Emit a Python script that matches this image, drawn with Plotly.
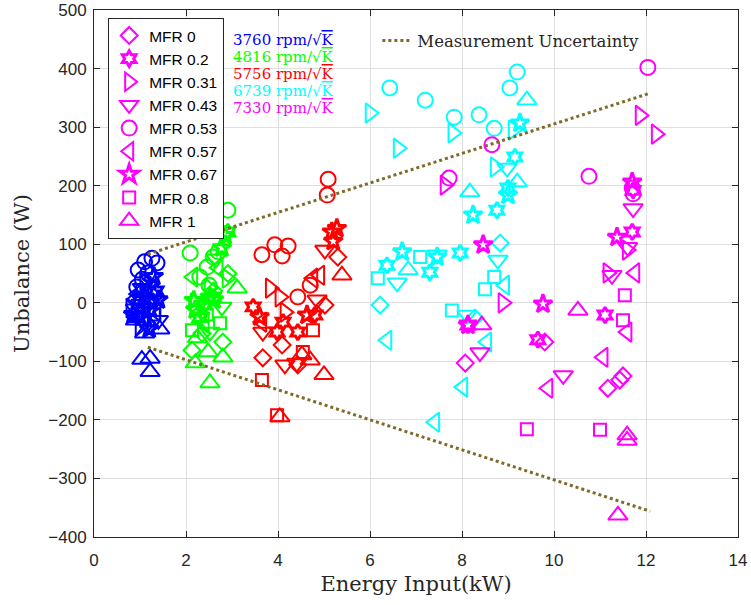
import plotly.graph_objects as go

# ---------------- data ----------------
MFR_LEVELS = [0, 0.2, 0.31, 0.43, 0.53, 0.57, 0.67, 0.8, 1]
MFR_LABELS = ["MFR 0", "MFR 0.2", "MFR 0.31", "MFR 0.43", "MFR 0.53",
              "MFR 0.57", "MFR 0.67", "MFR 0.8", "MFR 1"]
SPEEDS = [3760, 4816, 5756, 6739, 7330]

# 3760 rpm/sqrt(K)
M_3760 = [0, 0, 0, 0,
          0.2, 0.2, 0.2, 0.2,
          0.31, 0.31, 0.31, 0.31,
          0.43, 0.43, 0.43, 0.43,
          0.53, 0.53, 0.53, 0.53, 0.53, 0.53, 0.53,
          0.57, 0.57, 0.57, 0.57,
          0.67, 0.67, 0.67, 0.67, 0.67,
          0.8, 0.8, 0.8,
          1, 1, 1, 1, 1, 1]
E_3760 = [1.0, 1.3, 1.15, 0.9,
          1.0, 1.2, 1.35, 0.95,
          1.1, 1.3, 1.0, 0.8,
          1.2, 0.9, 1.4, 1.05,
          1.1, 0.96, 1.17, 1.37, 0.93, 1.26, 1.05,
          0.95, 1.25, 1.1, 1.35,
          0.85, 1.1, 1.3, 1.2, 1.4,
          1.05, 1.3, 0.95,
          1.1, 1.43, 1.04, 1.22, 1.22, 0.9]
U_3760 = [-20, 10, -35, 5,
          5, -15, 20, -25,
          35, -5, -40, -9,
          0, -10, -30, 25,
          70, 56, 51, 68, 27, 76, 40,
          15, 40, -25, -15,
          -20, 10, 45, -45, 5,
          20, -20, -5,
          -52, -45, -97, -95, -118, -30]

# 4816 rpm/sqrt(K)
M_4816 = [0, 0, 0, 0, 0,
          0.2, 0.2, 0.2, 0.2,
          0.31, 0.31, 0.31,
          0.43, 0.43, 0.43, 0.43,
          0.53, 0.53, 0.53, 0.53, 0.53, 0.53, 0.53,
          0.57, 0.57, 0.57,
          0.67, 0.67, 0.67, 0.67, 0.67, 0.67,
          0.8, 0.8, 0.8,
          1, 1, 1, 1, 1, 1]
E_4816 = [2.91, 2.13, 2.8, 2.35, 2.6,
          2.91, 2.41, 2.6, 2.3,
          2.89, 2.5, 2.2,
          2.78, 2.52, 2.3, 2.65,
          2.09, 2.46, 2.59, 2.3, 2.7, 2.91, 2.5,
          2.15, 2.4, 2.7,
          2.78, 2.17, 2.52, 2.2, 2.61, 2.85,
          2.74, 2.13, 2.45,
          3.11, 2.52, 2.8, 2.2, 2.48, 2.25]
U_4816 = [50, -81, -67, -52, 20,
          121, -4, 10, -25,
          42, 25, 0,
          -7, -50, -24, 75,
          85, 61, 78, 44, 87, 158, 30,
          44, -35, 60,
          94, 4, 10, -12, 5, 115,
          -35, -47, -20,
          25, -137, -93, -103, -84, -60]

# 5756 rpm/sqrt(K)
M_5756 = [0, 0, 0, 0, 0,
          0.2, 0.2, 0.2, 0.2, 0.2,
          0.31, 0.31, 0.31,
          0.43, 0.43, 0.43, 0.43, 0.43,
          0.53, 0.53, 0.53, 0.53, 0.53, 0.53, 0.53, 0.53,
          0.57, 0.57, 0.57,
          0.67, 0.67, 0.67, 0.67, 0.67,
          0.8, 0.8, 0.8, 0.8,
          1, 1, 1, 1, 1]
E_5756 = [5.3, 5.02, 3.67, 4.09, 4.43,
          3.46, 3.98, 4.43, 4.8, 4.11,
          3.83, 4.04, 4.15,
          5.02, 3.67, 4.15, 4.41, 4.85,
          5.09, 5.07, 3.65, 3.93, 4.09, 4.22, 4.43, 4.7,
          4.91, 4.76, 3.65,
          5.28, 5.17, 4.63, 3.6, 5.2,
          3.65, 4.76, 4.54, 3.98,
          5.39, 5.0, 4.7, 4.04, 4.52]
U_5756 = [78, -4, -94, -72, -106,
          -7, -50, -50, -21, -33,
          25, 10, -16,
          90, -50, -106, -103, 5,
          211, 184, 82, 99, 80, 97, 10, 30,
          47, 42, -33,
          127, 121, -21, -24, 105,
          -132, -47, -84, -192,
          47, -123, -98, -195, -89]

# 6739 rpm/sqrt(K)
M_6739 = [0, 0, 0,
          0.2, 0.2, 0.2, 0.2, 0.2, 0.2,
          0.31, 0.31, 0.31, 0.31, 0.31,
          0.43, 0.43, 0.43, 0.43, 0.43,
          0.53, 0.53, 0.53, 0.53, 0.53, 0.53, 0.53,
          0.57, 0.57, 0.57, 0.57, 0.57,
          0.67, 0.67, 0.67, 0.67, 0.67,
          0.8, 0.8, 0.8, 0.8, 0.8,
          1, 1, 1, 1]
E_6739 = [6.22, 8.83, 8.28,
          6.37, 7.3, 7.96, 8.76, 9.15, 9.0,
          6.0, 6.61, 7.8, 9.11, 8.72,
          8.98, 6.59, 7.46, 8.78, 8.11,
          6.43, 7.2, 7.83, 8.37, 8.7, 9.04, 9.2,
          6.37, 8.54, 8.02, 7.41, 8.93,
          6.7, 8.24, 9.0, 7.46, 9.26,
          6.17, 7.09, 8.5, 8.7, 7.78,
          9.41, 8.17, 9.2, 6.83]
U_6739 = [-4, 102, -26,
          64, 52, 85, 158, 249, 196,
          324, 264, 290, 295, 232,
          230, 34, 82, 73, -21,
          367, 346, 317, 321, 298, 367, 394,
          -64, -67, -144, -204, 30,
          87, 150, 184, 78, 307,
          42, 78, 23, 44, -13,
          346, 189, 206, 56]

# 7330 rpm/sqrt(K)
M_7330 = [0, 0, 0, 0, 0,
          0.2, 0.2, 0.2, 0.2, 0.2,
          0.31, 0.31, 0.31, 0.31, 0.31, 0.31,
          0.43, 0.43, 0.43, 0.43, 0.43,
          0.53, 0.53, 0.53, 0.53, 0.53, 0.53,
          0.57, 0.57, 0.57, 0.57,
          0.67, 0.67, 0.67, 0.67, 0.67,
          0.8, 0.8, 0.8, 0.8,
          1, 1, 1, 1, 1]
E_7330 = [11.43, 11.17, 11.5, 9.8, 8.07,
          11.7, 11.11, 9.65, 11.72, 8.13,
          11.87, 12.22, 7.63, 8.89, 11.17, 11.59,
          11.72, 11.6, 11.26, 10.2, 8.39,
          12.04, 10.76, 8.65, 7.72, 11.7, 11.72,
          11.76, 11.59, 11.07, 9.87,
          11.7, 11.37, 9.76, 8.46, 8.13,
          11.54, 11.5, 11.0, 9.41,
          11.59, 11.59, 11.39, 10.52, 8.43]
U_7330 = [-132, -146, -125, -67, -103,
          121, -21, -63, 192, -38,
          320, 288, 201, 0, 51, 90,
          161, 95, 47, -124, -85,
          402, 216, 270, 213, 196, 186,
          51, -50, -93, -146,
          206, 112, -2, 99, -38,
          13, -30, -217, -216,
          -226, -235, -363, -13, -38]

# measurement uncertainty band (end points)
UNC_E = [1.17, 12.09]
UNC_UP = [83, 358]
UNC_LO = [-76, -356]

# ---------------- styling ----------------
COLORS = {3760: "#0000FF", 4816: "#00FF00", 5756: "#FF0000",
          6739: "#00FFFF", 7330: "#FF00FF"}
SYMS = ["diamond-open", "hexagram-open", "triangle-right-open",
        "triangle-down-open", "circle-open", "triangle-left-open",
        "star-open", "square-open", "triangle-up-open"]
SIZES = [13, 12, 17, 17, 15, 17, 14, 12, 17]
WIDTHS = [2, 3, 2, 2, 2, 2, 3, 2, 2]

DATA = {3760: (M_3760, E_3760, U_3760), 4816: (M_4816, E_4816, U_4816),
        5756: (M_5756, E_5756, U_5756), 6739: (M_6739, E_6739, U_6739),
        7330: (M_7330, E_7330, U_7330)}

fig = go.Figure()

for spd in SPEEDS:
    M, E, U = DATA[spd]
    for k, lvl in enumerate(MFR_LEVELS):
        xs = [e for m, e in zip(M, E) if m == lvl]
        ys = [u for m, u in zip(M, U) if m == lvl]
        fig.add_trace(go.Scatter(
            x=xs, y=ys, mode="markers", name=MFR_LABELS[k],
            showlegend=(spd == 7330), legend="legend",
            marker=dict(symbol=SYMS[k], size=SIZES[k], color=COLORS[spd],
                        line=dict(width=WIDTHS[k], color=COLORS[spd])),
        ))

line_col = "#7F6A28"
fig.add_trace(go.Scatter(x=UNC_E, y=UNC_UP, mode="lines",
                         name="Measurement Uncertainty", legend="legend2",
                         line=dict(color=line_col, width=3, dash="dot")))
fig.add_trace(go.Scatter(x=UNC_E, y=UNC_LO, mode="lines", showlegend=False,
                         line=dict(color=line_col, width=3, dash="dot")))

# rpm labels
for i, spd in enumerate(SPEEDS):
    fig.add_annotation(
        x=0.212, y=0.943 - i * 0.0323, xref="paper", yref="paper",
        xanchor="left", yanchor="middle", showarrow=False,
        text=f"{spd} rpm/√<span style=\"text-decoration:overline\">K</span>",
        font=dict(family="DejaVu Serif", size=15, color=COLORS[spd]))

axis_common = dict(showline=True, linecolor="#262626", linewidth=1,
                   mirror="ticks", ticks="inside", ticklen=6,
                   tickcolor="#262626", showgrid=True, gridcolor="#DFDFDF",
                   zeroline=False, automargin=False,
                   tickfont=dict(family="Liberation Sans", size=17, color="#262626"))

fig.update_layout(
    width=751, height=605,
    margin=dict(l=94, r=13, t=10, b=68),
    paper_bgcolor="white", plot_bgcolor="white",
    xaxis=dict(range=[0, 14], dtick=2, ticklabelstandoff=8,
               title=dict(text="Energy Input(kW)", standoff=6,
                          font=dict(family="DejaVu Serif", size=21, color="#262626")),
               **axis_common),
    yaxis=dict(range=[-400, 500], dtick=100, ticklabelstandoff=3,
               title=dict(text="Unbalance (W)", standoff=12,
                          font=dict(family="DejaVu Serif", size=21, color="#262626")),
               **axis_common),
    legend=dict(x=0.022, y=0.985, xanchor="left", yanchor="top",
                bgcolor="white", bordercolor="#262626", borderwidth=1,
                font=dict(family="Liberation Sans", size=15.5, color="black"),
                itemsizing="trace", traceorder="normal"),
    legend2=dict(x=0.44, y=0.975, xanchor="left", yanchor="top",
                 bgcolor="rgba(0,0,0,0)", borderwidth=0,
                 font=dict(family="DejaVu Serif", size=16.5, color="#262626")),
)

fig.write_html("out.html")
